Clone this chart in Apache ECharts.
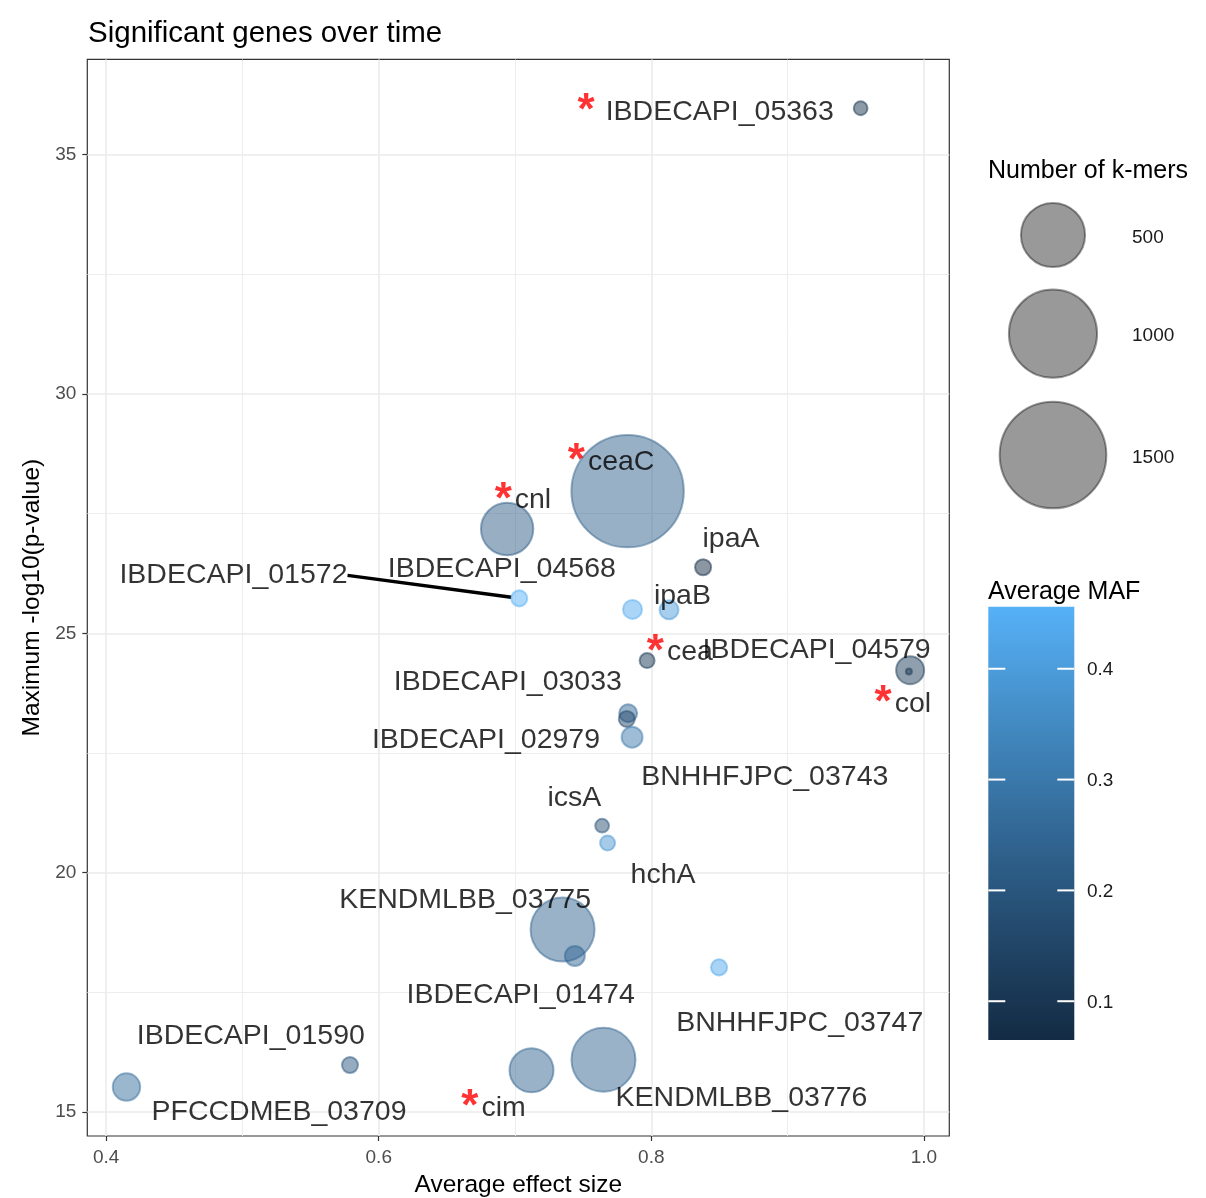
<!DOCTYPE html>
<html>
<head>
<meta charset="utf-8">
<title>Significant genes over time</title>
<script src="https://cdn.jsdelivr.net/npm/echarts@6/dist/echarts.min.js"></script>
<style>
  html, body { margin: 0; padding: 0; background: #ffffff; }
  #chart { width: 1206px; height: 1198px; }
</style>
</head>
<body>
<div id="chart"></div>
<script>
// ---- data -------------------------------------------------------------
const genes = [
  'IBDECAPI_05363', 'ceaC', 'cnl', 'IBDECAPI_01572', 'IBDECAPI_04568',
  'ipaB', 'ipaA', 'cea', 'IBDECAPI_04579', 'col',
  'IBDECAPI_03033', 'IBDECAPI_02979', 'BNHHFJPC_03743', 'icsA', 'hchA',
  'KENDMLBB_03775', 'IBDECAPI_01474', 'BNHHFJPC_03747', 'KENDMLBB_03776', 'cim',
  'IBDECAPI_01590', 'PFCCDMEB_03709'
];
const effectSize = [
  0.9536, 0.7826, 0.6942, 0.7031, 0.7862,
  0.8130, 0.8380, 0.7969, 0.9899, 0.9890,
  0.7830, 0.7820, 0.7859, 0.7639, 0.7679,
  0.7349, 0.7439, 0.8497, 0.7649, 0.7121,
  0.5789, 0.4149
];
const maxNegLogP = [
  35.97, 27.97, 27.18, 25.73, 25.50,
  25.49, 26.38, 24.43, 24.23, 24.20,
  23.33, 23.21, 22.83, 20.98, 20.62,
  18.81, 18.26, 18.02, 16.09, 15.87,
  15.98, 15.52
];
const kmerCount = [
  9, 1675, 318, 15, 25,
  25, 15, 12, 72, 0,
  21, 15, 33, 9, 12,
  498, 29, 15, 498, 214,
  15, 68
];
const avgMAF = [
  0.09, 0.23, 0.22, 0.456, 0.44,
  0.40, 0.065, 0.10, 0.12, 0.11,
  0.25, 0.16, 0.30, 0.18, 0.38,
  0.24, 0.25, 0.43, 0.24, 0.24,
  0.20, 0.27
];
// genes flagged with a red asterisk
const starred = ['IBDECAPI_05363', 'ceaC', 'cnl', 'cea', 'col', 'cim'];

const xTicks = [0.4, 0.6, 0.8, 1.0];
const yTicks = [15, 20, 25, 30, 35];
const sizeBreaks = [500, 1000, 1500];
const mafTicks = [0.1, 0.2, 0.3, 0.4];

// ---- layout -----------------------------------------------------------
// offset of each label centre from its point, in pixels
const labelShift = [
  [-155, 0], [-16.5, -33], [15.8, -32], [-285.8, -26.5], [-130.7, -44],
  [13.4, -17], [27.9, -31.8], [32.7, -11.7], [-93.5, -23.3], [-6, 29],
  [-120.3, -34.3], [-140.8, 17.7], [132.7, 36], [-27.8, -31], [55.5, 28.5],
  [-97.5, -32.5], [-54.2, 35.7], [80.7, 52.3], [138, 35], [-38, 34.2],
  [-99.2, -32.3], [152.5, 22]
];
const LABEL_DY = 3.5;
const leaderLabels = ['IBDECAPI_01572'];
const wideStarLabels = ['IBDECAPI_05363'];

const FONT = '"Liberation Sans", Arial, Helvetica, sans-serif';
const POINT_ALPHA = 0.62;

// ---- scales -----------------------------------------------------------
function padded(values, frac) {
  const lo = Math.min(...values), hi = Math.max(...values);
  const pad = (hi - lo) * frac;
  return [lo - pad, hi + pad];
}
const [xMin, xMax] = padded(effectSize, 0.05);
const [yMin, yMax] = padded(maxNegLogP, 0.05);

// bubble radius in px for a k-mer count
function radiusFor(n) { return 3 + 1.3 * Math.sqrt(n); }

const mafMin = Math.min(...avgMAF);
const mafMax = Math.max(...avgMAF);
// dark navy -> light blue, sampled in Lab space
const palette = ['#132B43', '#23496C', '#336A98', '#448DC6', '#56B1F7'];
function hexToRgb(h) {
  return [parseInt(h.slice(1, 3), 16), parseInt(h.slice(3, 5), 16), parseInt(h.slice(5, 7), 16)];
}
function mafRgb(v) {
  let t = (v - mafMin) / (mafMax - mafMin);
  t = Math.max(0, Math.min(1, t));
  const pos = t * (palette.length - 1);
  const i = Math.min(Math.floor(pos), palette.length - 2);
  const f = pos - i;
  const a = hexToRgb(palette[i]), b = hexToRgb(palette[i + 1]);
  return a.map((av, k) => Math.round(av + (b[k] - av) * f));
}
function rgba(c, a) { return 'rgba(' + c.join(',') + ',' + a + ')'; }

// ---- series -----------------------------------------------------------
const points = genes.map((g, i) => {
  const col = rgba(mafRgb(avgMAF[i]), POINT_ALPHA);
  const star = starred.includes(g);
  const starKey = wideStarLabels.includes(g) ? 'sw' : 's';
  return {
    name: g,
    value: [effectSize[i], maxNegLogP[i], kmerCount[i], avgMAF[i]],
    itemStyle: { color: col, borderColor: col },
    label: { formatter: (star ? '{' + starKey + '|*}' : '') + '{t|' + g + '}' },
    labelLine: { show: leaderLabels.includes(g) }
  };
});

function gridLine(axis, v, major) {
  const coords = axis === 'x' ? [[v, yMin], [v, yMax]] : [[xMin, v], [xMax, v]];
  return { coords, lineStyle: { width: major ? 1.6 : 0.9, color: '#ebebeb', opacity: 1 } };
}
function minors(ticks) {
  const out = [];
  for (let i = 0; i < ticks.length - 1; i++) out.push((ticks[i] + ticks[i + 1]) / 2);
  return out;
}
const gridData = [
  ...minors(xTicks).map(v => gridLine('x', v, false)),
  ...minors(yTicks).map(v => gridLine('y', v, false)),
  ...xTicks.map(v => gridLine('x', v, true)),
  ...yTicks.map(v => gridLine('y', v, true))
];

// ---- legends (drawn as graphics) -------------------------------------
const legendX = 988;
const sizeCentres = [235, 333.7, 455];
const sizeLegend = [
  { type: 'text', x: legendX, y: 171, style: { text: 'Number of k-mers', font: '25px ' + FONT, fill: '#000', textVerticalAlign: 'middle' } }
];
sizeBreaks.forEach((n, i) => {
  sizeLegend.push({
    type: 'circle', shape: { cx: 1053, cy: sizeCentres[i], r: radiusFor(n) },
    style: { fill: 'rgba(0,0,0,0.4)', stroke: 'rgba(0,0,0,0.4)', lineWidth: 2 }
  });
  sizeLegend.push({
    type: 'text', x: 1132, y: sizeCentres[i] + 2.5,
    style: { text: String(n), font: '19px ' + FONT, fill: '#1a1a1a', textVerticalAlign: 'middle' }
  });
});

const bar = { x: 988.3, y: 606.7, w: 86, h: 433.3 };
const stops = palette.map((c, i) => ({ offset: 1 - i / (palette.length - 1), color: c })).reverse();
const colourLegend = [
  { type: 'text', x: legendX, y: 592, style: { text: 'Average MAF', font: '25px ' + FONT, fill: '#000', textVerticalAlign: 'middle' } },
  {
    type: 'rect', shape: { x: bar.x, y: bar.y, width: bar.w, height: bar.h },
    style: { fill: new echarts.graphic.LinearGradient(0, 0, 0, 1, stops) }
  }
];
mafTicks.forEach(v => {
  const ty = bar.y + bar.h - (v - mafMin) / (mafMax - mafMin) * bar.h;
  colourLegend.push({ type: 'line', shape: { x1: bar.x, y1: ty, x2: bar.x + 17, y2: ty }, style: { stroke: '#ffffff', lineWidth: 2 } });
  colourLegend.push({ type: 'line', shape: { x1: bar.x + bar.w - 17, y1: ty, x2: bar.x + bar.w, y2: ty }, style: { stroke: '#ffffff', lineWidth: 2 } });
  colourLegend.push({
    type: 'text', x: 1087, y: ty + 1.5,
    style: { text: v.toFixed(1), font: '19px ' + FONT, fill: '#1a1a1a', textVerticalAlign: 'middle' }
  });
});

// ---- chart ------------------------------------------------------------
const chart = echarts.init(document.getElementById('chart'), null, { renderer: 'canvas' });
chart.setOption({
  animation: false,
  backgroundColor: '#ffffff',
  textStyle: { fontFamily: FONT },
  grid: {
    left: 87.3, top: 59.3, width: 862, height: 1076.7,
    show: true, backgroundColor: '#ffffff', borderColor: '#333333', borderWidth: 1.2,
    containLabel: false,
    outerBoundsMode: 'none'
  },
  xAxis: {
    type: 'value', min: xMin, max: xMax,
    splitLine: { show: false },
    axisLine: { show: false },
    axisTick: { show: true, customValues: xTicks, length: 5, lineStyle: { color: '#333333', width: 1.2 } },
    axisLabel: { customValues: xTicks, formatter: v => v.toFixed(1), color: '#4d4d4d', fontSize: 19, margin: 12, fontFamily: FONT },
    name: 'Average effect size', nameLocation: 'middle', nameGap: 37,
    nameTextStyle: { fontSize: 24.5, color: '#000', fontFamily: FONT }
  },
  yAxis: {
    type: 'value', min: yMin, max: yMax,
    splitLine: { show: false },
    axisLine: { show: false },
    axisTick: { show: true, customValues: yTicks, length: 5, lineStyle: { color: '#333333', width: 1.2 } },
    axisLabel: { customValues: yTicks, formatter: v => String(v), color: '#4d4d4d', fontSize: 19, margin: 11, fontFamily: FONT },
    name: 'Maximum -log10(p-value)', nameLocation: 'middle', nameGap: 36, nameRotate: 90,
    nameTextStyle: { fontSize: 24.5, color: '#000', fontFamily: FONT }
  },
  graphic: [
    { type: 'text', x: 88, y: 34, style: { text: 'Significant genes over time', font: '29.5px ' + FONT, fill: '#000', textVerticalAlign: 'middle' } },
    ...sizeLegend,
    ...colourLegend
  ],
  series: [
    {
      type: 'lines', coordinateSystem: 'cartesian2d', silent: true, z: 1,
      polyline: false, symbol: 'none',
      lineStyle: { opacity: 1 },
      data: gridData
    },
    {
      type: 'scatter', z: 3, silent: true,
      data: points,
      symbol: 'circle',
      symbolSize: val => 2 * radiusFor(val[2]),
      itemStyle: { borderWidth: 2 },
      label: {
        show: true, position: 'inside',
        rich: {
          s: { color: '#ff0000', fontSize: 44, fontWeight: 'bold', lineHeight: 34, padding: [0, 3, 0, 0], fontFamily: FONT },
          sw: { color: '#ff0000', fontSize: 44, fontWeight: 'bold', lineHeight: 34, padding: [0, 11, 0, 0], fontFamily: FONT },
          t: { color: '#000000', fontSize: 28.5, lineHeight: 34, fontFamily: FONT }
        }
      },
      labelLine: { show: false, lineStyle: { color: '#000000', width: 3.5 } },
      labelLayout: params => {
        const s = labelShift[params.dataIndex];
        return { dx: s[0], dy: s[1] + LABEL_DY, hideOverlap: false };
      },
      emphasis: { disabled: true }
    }
  ]
});
</script>
</body>
</html>
